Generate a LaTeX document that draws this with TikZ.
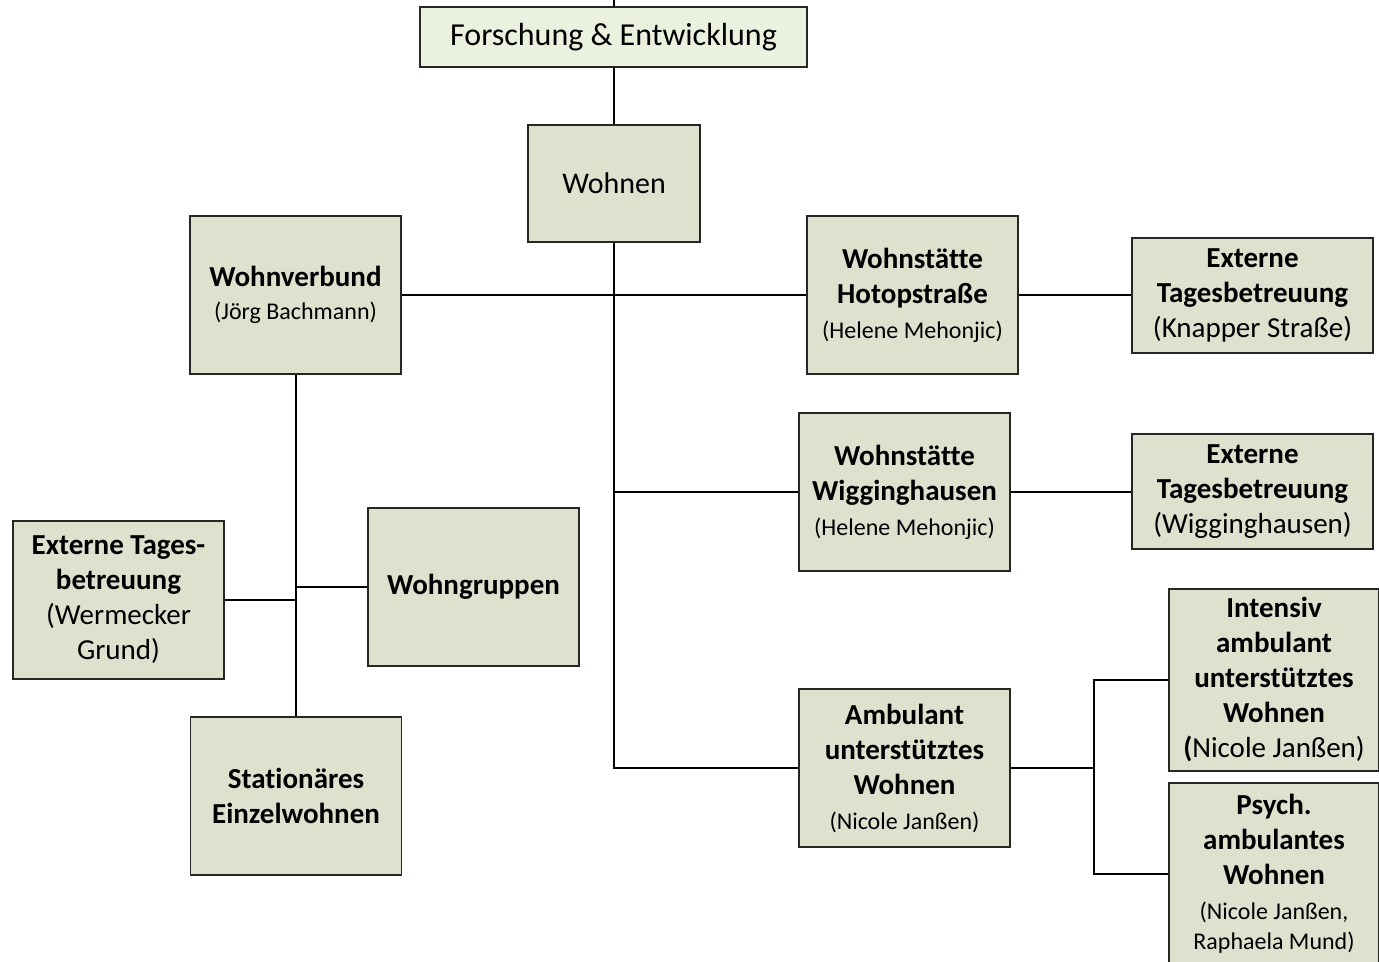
\documentclass[tikz,border=0pt]{standalone}
\usepackage{fontspec}
\setmainfont{Carlito}[Ligatures=NoCommon, RawFeature={-liga;-clig;-calt;-dlig}]
\definecolor{boxGreen}{RGB}{221,225,206}
\definecolor{boxLightGreen}{RGB}{235,241,223}
\newcommand{\namefont}{\fontsize{12}{15}\selectfont}

\begin{document}
\begin{tikzpicture}[x=0.5pt, y=-0.5pt,
	unit/.style={draw=black!85, line width=0.7pt, fill=boxGreen, align=center, inner sep=1pt, font=\fontsize{14.5}{17.5}\selectfont},
	wide/.style={unit, minimum width=105.5pt, minimum height=79pt},
	ext/.style={unit, minimum width=120.5pt, minimum height=57.5pt},
	link/.style={line width=1pt}]
	\useasboundingbox (0,0) rectangle (1379,962);

	\coordinate (feTop) at (613.5,0);
	\draw (613.5,37) node[unit, fill=boxLightGreen, minimum width=193.5pt, minimum height=30pt, font=\fontsize{16}{19}\selectfont] (fe) {Forschung \& Entwicklung};
	\draw (614,183.5) node[unit, minimum width=86pt, minimum height=58.5pt, font=\fontsize{15}{18}\selectfont] (wohnen) {Wohnen};

	\draw (295.5,295) node[wide] (verbund) {\textbf{Wohnverbund}\\[-1pt]{\namefont (Jörg Bachmann)}};
	\draw (912.5,295) node[wide] (hotop) {\textbf{Wohnstätte}\\\textbf{Hotopstraße}\\{\namefont (Helene Mehonjic)}};
	\draw (1252.5,295.5) node[ext] (extHotop) {\textbf{Externe}\\\textbf{Tagesbetreuung}\\(Knapper Straße)};
	\draw (904.5,492) node[wide] (wigg) {\textbf{Wohnstätte}\\\textbf{Wigginghausen}\\{\namefont (Helene Mehonjic)}};
	\draw (1252.5,491.5) node[ext] (extWigg) {\textbf{Externe}\\\textbf{Tagesbetreuung}\\(Wigginghausen)};
	\draw (904.5,768) node[wide] (ambulant) {\textbf{Ambulant}\\\textbf{unterstütztes}\\\textbf{Wohnen}\\{\namefont (Nicole Janßen)}};
	\draw (1274,680) node[unit, minimum width=105pt, minimum height=91pt] (intensiv) {\textbf{Intensiv}\\\textbf{ambulant}\\\textbf{unterstütztes}\\\textbf{Wohnen}\\\textbf{(}Nicole Janßen)};
	\draw (1274,874) node[unit, minimum width=105pt, minimum height=91pt] (psych) {\textbf{Psych.}\\\textbf{ambulantes}\\\textbf{Wohnen}\\{\namefont (Nicole Janßen,}\\[-2.5pt]{\namefont Raphaela Mund)}};

	\draw (473.5,587) node[wide] (gruppen) {\textbf{Wohngruppen}};
	\draw (118.5,600) node[wide] (extWerm) {\textbf{Externe Tages-}\\\textbf{betreuung}\\(Wermecker\\Grund)};
	\draw (296,796) node[wide] (stationaer) {\textbf{Stationäres}\\\textbf{Einzelwohnen}};

	% connectors
	\draw[link] (feTop) -- (fe.north);
	\draw[link] (fe.south) -- (fe.south |- wohnen.north);
	\draw[link] (verbund.east) -- (hotop.west);
	\draw[link] (wohnen.south) |- (ambulant.west);
	\draw[link] (wohnen.south |- wigg.west) -- (wigg.west);
	\draw[link] (hotop.east) -- (hotop.east -| extHotop.west);
	\draw[link] (wigg.east) -- (wigg.east -| extWigg.west);
	\draw[link] (ambulant.east) -- ++(83,0) coordinate (split);
	\draw[link] (intensiv.west) -| (split) |- (psych.west);
	\draw[link] (verbund.south) -- (verbund.south |- stationaer.north);
	\draw[link] (verbund.south |- gruppen.west) -- (gruppen.west);
	\draw[link] (extWerm.east) -- (extWerm.east -| verbund.south);
\end{tikzpicture}
\end{document}
